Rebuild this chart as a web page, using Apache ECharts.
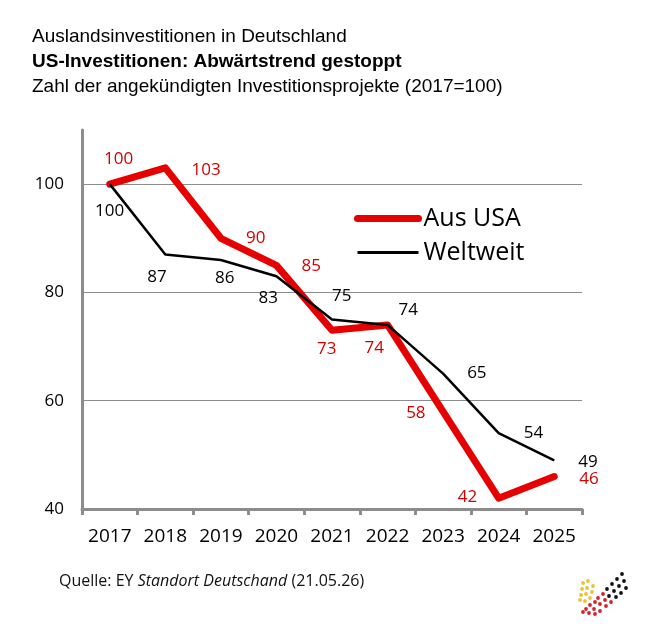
<!DOCTYPE html>
<html>
<head>
<meta charset="utf-8">
<script src="https://cdn.jsdelivr.net/npm/echarts@6/dist/echarts.min.js"></script>
<style>
html,body{margin:0;padding:0;background:#fff;}
#chart{width:656px;height:637px;}
</style>
</head>
<body>
<div id="chart"></div>
<script>
// ---- data ----
var years = ['2017','2018','2019','2020','2021','2022','2023','2024','2025'];
var usaValues = [100, 103, 90, 85, 73, 74, 58, 42, 46];
var worldValues = [100, 87, 86, 83, 75, 74, 65, 54, 49];
var seriesNames = ['Aus USA', 'Weltweit'];
var yTicks = {min: 40, max: 110, interval: 20};

// ---- label placement (styling) ----
var usaLabelOffsets = [[9,-25],[41,3],[35,0],[35,1],[-5,19],[-13,23],[-27,2],[-31,-1],[35,3]];
var worldLabelOffsets = [[0,27],[-8,23],[4,18],[-8,22],[10,-23],[21,-15],[34,0],[35,0],[34,2]];

var RED = '#e60000';
var RED_TEXT = '#d30000';
var LABEL_FONT = '"Open Sans", "Noto Sans", sans-serif';

function buildData(values, offsets, color) {
  return values.map(function (v, i) {
    return {
      value: v,
      label: {
        show: true,
        position: offsets[i],
        color: color,
        fontSize: 17,
        fontFamily: LABEL_FONT,
        align: 'center',
        verticalAlign: 'middle'
      }
    };
  });
}

// logo dots (decoration)
var logoDots = [];
function addDot(x, y, c) {
  logoDots.push({type: 'circle', shape: {cx: x, cy: y, r: 1.9}, style: {fill: c}, silent: true});
}
[[622,574],[617,579],[612,584],[607,589],[624,581],[619,586],[614,591],[609,596],[626,588],[621,593],[616,597]].forEach(function(p){addDot(p[0],p[1],'#111');});
[[603,594],[598,598],[605,600],[600,604],[595,602],[590,605],[594,609],[600,611],[606,606],[611,602],[586,609],[589,613],[595,614],[583,612]].forEach(function(p){addDot(p[0],p[1],'#d2232a');});
[[583,583],[588,581],[593,586],[582,589],[587,588],[592,592],[581,595],[586,594],[590,598],[580,600],[585,601]].forEach(function(p){addDot(p[0],p[1],'#e8c23a');});

var chart = echarts.init(document.getElementById('chart'), null, {renderer: 'canvas'});
var option = {
  backgroundColor: '#ffffff',
  animation: false,
  title: {
    left: 27,
    top: 19,
    text: '{a|Auslandsinvestitionen in Deutschland}\n{b|US-Investitionen: Abwärtstrend gestoppt}\n{a|Zahl der angekündigten Investitionsprojekte (2017=100)}',
    textStyle: {
      fontWeight: 'normal',
      rich: {
        a: {fontFamily: '"Liberation Sans", Arial, sans-serif', fontSize: 19, fontWeight: 'normal', color: '#000', lineHeight: 25},
        b: {fontFamily: '"Liberation Sans", Arial, sans-serif', fontSize: 19, fontWeight: 'bold', color: '#000', lineHeight: 25}
      }
    }
  },
  legend: {
    orient: 'vertical',
    left: 349,
    top: 201,
    itemWidth: 61,
    itemHeight: 14,
    itemGap: 9,
    data: [
      {name: seriesNames[0], lineStyle: {width: 7, color: RED}, itemStyle: {opacity: 0}},
      {name: seriesNames[1], lineStyle: {width: 3, color: '#000'}, itemStyle: {opacity: 0}}
    ],
    textStyle: {fontSize: 25, fontFamily: LABEL_FONT, color: '#000'}
  },
  grid: {left: 82, right: 74, top: 130, bottom: 128, containLabel: false},
  xAxis: {
    type: 'category',
    data: years,
    boundaryGap: true,
    axisLine: {lineStyle: {color: '#8c8c8c', width: 3}},
    axisTick: {show: true, length: 6, interval: 0, lineStyle: {color: '#8c8c8c', width: 3}},
    axisLabel: {color: '#000', fontSize: 19, fontFamily: LABEL_FONT, margin: 18, interval: 0, hideOverlap: false}
  },
  yAxis: {
    type: 'value',
    min: yTicks.min,
    max: yTicks.max,
    interval: yTicks.interval,
    axisLine: {show: true, lineStyle: {color: '#8c8c8c', width: 3}},
    axisTick: {show: false},
    axisLabel: {color: '#000', fontSize: 17, fontFamily: LABEL_FONT, margin: 18, showMaxLabel: false},
    splitLine: {show: true, showMaxLine: false, showMinLine: false, lineStyle: {color: '#8c8c8c', width: 1}}
  },
  series: [
    {
      name: seriesNames[0],
      type: 'line',
      data: buildData(usaValues, usaLabelOffsets, RED_TEXT),
      symbol: 'circle',
      symbolSize: 0.5,
      showSymbol: true,
      itemStyle: {color: RED, borderWidth: 0},
      lineStyle: {color: RED, width: 7, cap: 'round', join: 'round'},
      labelLayout: {hideOverlap: false},
      z: 2
    },
    {
      name: seriesNames[1],
      type: 'line',
      data: buildData(worldValues, worldLabelOffsets, '#000'),
      symbol: 'circle',
      symbolSize: 0.5,
      showSymbol: true,
      itemStyle: {color: '#000', borderWidth: 0},
      lineStyle: {color: '#000', width: 2.5, join: 'round'},
      labelLayout: {hideOverlap: false},
      z: 3
    }
  ],
  graphic: [
    {
      type: 'text',
      left: 59,
      top: 573,
      style: {
        text: '{n|Quelle: EY }{i|Standort Deutschand}{n| (21.05.26)}',
        rich: {
          n: {fontFamily: LABEL_FONT, fontSize: 16, fill: '#111'},
          i: {fontFamily: LABEL_FONT, fontSize: 16, fontStyle: 'italic', fill: '#111'}
        }
      }
    },
    {type: 'group', children: logoDots}
  ]
};
chart.setOption(option);
</script>
</body>
</html>
